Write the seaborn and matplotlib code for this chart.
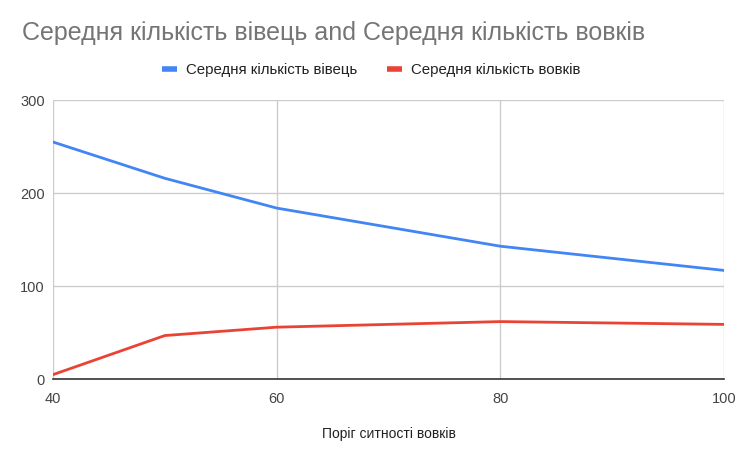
import numpy as np, pandas as pd
import matplotlib
matplotlib.use("Agg")
import matplotlib.pyplot as plt
import seaborn as sns

BLUE = "#4285F4"; RED = "#EA4335"
sns.set_style("white")
plt.rcParams["font.family"] = ["Liberation Sans", "DejaVu Sans"]

threshold = [40, 50, 60, 80, 100]
sheep = [255, 216, 184, 143, 117]
wolves = [5, 47, 56, 62, 59]
SHEEP_LBL = "Середня кількість вівець"
WOLF_LBL = "Середня кількість вовків"

df = pd.DataFrame({"x": threshold * 2, "y": sheep + wolves,
                   "series": [SHEEP_LBL] * len(sheep) + [WOLF_LBL] * len(wolves)})

fig = plt.figure(figsize=(7.42, 4.51), dpi=100)
ax = fig.add_axes([0.0714, 0.159, 0.9043, 0.619])
sns.lineplot(data=df, x="x", y="y", hue="series", palette=[BLUE, RED],
             linewidth=2, ax=ax, legend=False)

ax.set_xlim(40, 100); ax.set_ylim(0, 300)
ax.set_xticks([40, 60, 80, 100]); ax.set_yticks([0, 100, 200, 300])
ax.grid(True, color="#cccccc", linewidth=1)
ax.set_axisbelow(True)
for s in ["top", "left", "right"]:
    ax.spines[s].set_visible(False)
ax.spines["bottom"].set_color("#333333"); ax.spines["bottom"].set_linewidth(1.2)
ax.tick_params(axis="both", length=0, labelsize=10.5, colors="#444444")
ax.tick_params(axis="x", pad=9)
ax.tick_params(axis="y", pad=6)
ax.set_xlabel("Поріг ситності вовків", fontsize=10, color="#222222", labelpad=15)
ax.set_ylabel("")

fig.text(22 / 742, 1 - 33 / 451, f"{SHEEP_LBL} and {WOLF_LBL}", fontsize=18,
         color="#757575", va="center", ha="left")

handles = [plt.Line2D([], [], color=BLUE, linewidth=4, solid_capstyle="butt"),
           plt.Line2D([], [], color=RED, linewidth=4, solid_capstyle="butt")]
fig.legend(handles, [SHEEP_LBL, WOLF_LBL], loc="center", bbox_to_anchor=(0.5, 1 - 70 / 451),
           ncol=2, frameon=False, fontsize=10.8, handlelength=1.0, handletextpad=0.6,
           columnspacing=2.0, labelcolor="#222222")

fig.savefig("out.png", dpi=100)
